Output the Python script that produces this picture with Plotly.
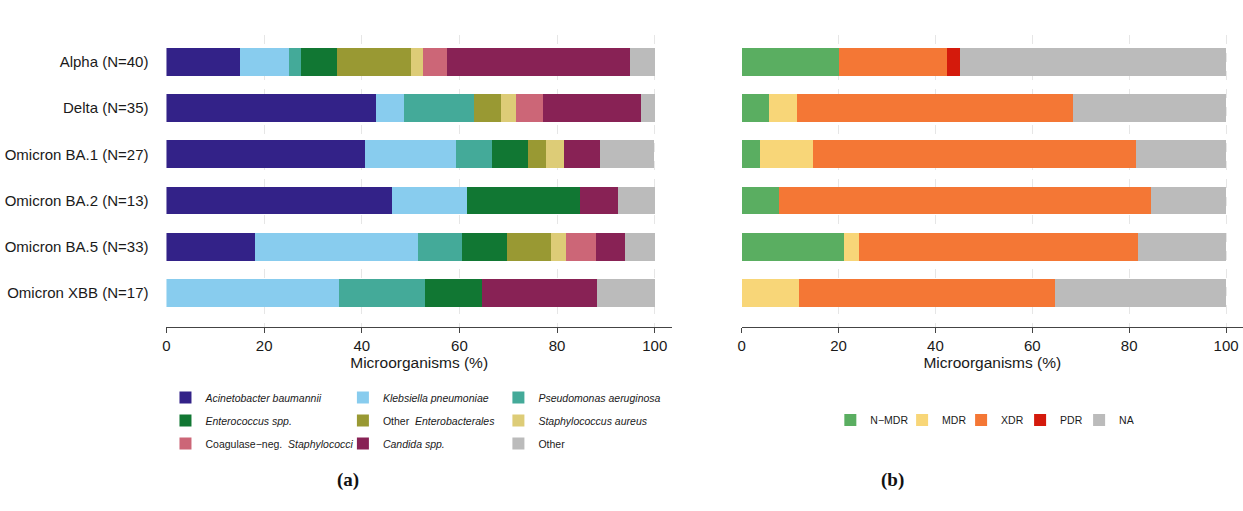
import plotly.graph_objects as go

# Variant groups (top to bottom)
variants = [
    "Alpha (N=40)",
    "Delta (N=35)",
    "Omicron BA.1 (N=27)",
    "Omicron BA.2 (N=13)",
    "Omicron BA.5 (N=33)",
    "Omicron XBB (N=17)",
]

# Panel (a): share of microorganisms per variant (%)
acinetobacter = [15.0, 42.9, 40.7, 46.2, 18.2, 0.0]
klebsiella = [10.0, 5.7, 18.5, 15.4, 33.3, 35.3]
pseudomonas = [2.5, 14.3, 7.4, 0.0, 9.1, 17.6]
enterococcus = [7.5, 0.0, 7.4, 23.1, 9.1, 11.8]
other_enterobacterales = [15.0, 5.7, 3.7, 0.0, 9.1, 0.0]
staph_aureus = [2.5, 2.9, 3.7, 0.0, 3.0, 0.0]
coagulase_neg = [5.0, 5.7, 0.0, 0.0, 6.1, 0.0]
candida = [37.5, 20.0, 7.4, 7.7, 6.1, 23.5]
other_organisms = [5.0, 2.9, 11.1, 7.7, 6.1, 11.8]

# Panel (b): resistance profile per variant (%)
n_mdr = [20.0, 5.7, 3.7, 7.7, 21.2, 0.0]
mdr = [0.0, 5.7, 11.1, 0.0, 3.0, 11.8]
xdr = [22.5, 57.1, 66.7, 76.9, 57.6, 52.9]
pdr = [2.5, 0.0, 0.0, 0.0, 0.0, 0.0]
na_status = [55.0, 31.4, 18.5, 15.4, 18.2, 35.3]

x_ticks = [0, 20, 40, 60, 80, 100]

organism_series = [
    ("<i>Acinetobacter baumannii</i>", acinetobacter, "#332288", "legend"),
    ("<i>Klebsiella pneumoniae</i>", klebsiella, "#88CCEE", "legend2"),
    ("<i>Pseudomonas aeruginosa</i>", pseudomonas, "#44AA99", "legend3"),
    ("<i>Enterococcus spp.</i>", enterococcus, "#117733", "legend"),
    ("Other  <i>Enterobacterales</i>", other_enterobacterales, "#999933", "legend2"),
    ("<i>Staphylococcus aureus</i>", staph_aureus, "#DDCC77", "legend3"),
    ("Coagulase\u2212neg.  <i>Staphylococci</i>", coagulase_neg, "#CC6677", "legend"),
    ("<i>Candida spp.</i>", candida, "#882255", "legend2"),
    ("Other", other_organisms, "#BBBBBB", "legend3"),
]

resistance_series = [
    ("N\u2212MDR", n_mdr, "#5AAE61", "legend4"),
    ("MDR", mdr, "#F8D678", "legend5"),
    ("XDR", xdr, "#F47735", "legend5"),
    ("PDR", pdr, "#D41A0C", "legend5"),
    ("NA", na_status, "#BBBBBB", "legend5"),
]

fig = go.Figure()

for i, (name, vals, color, leg) in enumerate(organism_series):
    fig.add_trace(go.Bar(
        y=variants, x=vals, orientation="h", name=name,
        marker=dict(color=color, line=dict(width=0)),
        xaxis="x", yaxis="y", legend=leg, legendgroup=f"org{i}",
    ))

for name, vals, color, leg in resistance_series:
    fig.add_trace(go.Bar(
        y=variants, x=vals, orientation="h", name=name,
        marker=dict(color=color, line=dict(width=0)),
        xaxis="x2", yaxis="y2", legend=leg,
    ))

W, H = 1243, 511
font_family = "Liberation Sans, Arial, sans-serif"

def px_x(p):
    return p / W

def px_y(p):
    return 1 - p / H

y_dom = [px_y(327), px_y(35)]
y_range = [5.73, -0.576]

xaxis_common = dict(
    range=[0, 103.5], tickvals=x_ticks, ticks="outside", ticklen=5,
    tickcolor="#444444", showline=True, linecolor="#444444", linewidth=1,
    showgrid=True, gridcolor="#E6E6E6", gridwidth=1.2, griddash="dash",
    zeroline=False, tickfont=dict(size=15, color="#1A1A1A"),
    title=dict(text="Microorganisms (%)", font=dict(size=15.5, color="#1A1A1A"), standoff=3),
    fixedrange=True,
)

legend_font = dict(size=10.5, color="#1A1A1A", family=font_family)

legend_common = dict(
    orientation="v", bgcolor="rgba(0,0,0,0)", font=legend_font,
    xanchor="left", yanchor="top", tracegroupgap=4, traceorder="grouped",
    itemclick=False, itemdoubleclick=False,
)

row_legend = dict(
    orientation="h", xanchor="left", yanchor="middle", traceorder="normal",
    bgcolor="rgba(0,0,0,0)", font=legend_font, itemclick=False, itemdoubleclick=False,
)

fig.update_layout(
    width=W, height=H,
    margin=dict(l=0, r=0, t=0, b=0),
    paper_bgcolor="white", plot_bgcolor="white",
    font=dict(family=font_family, color="#1A1A1A"),
    barmode="stack", bargap=0.4,
    xaxis=dict(domain=[px_x(163), px_x(670)], anchor="y", **xaxis_common),
    xaxis2=dict(domain=[px_x(740), 1.0], anchor="y2", **xaxis_common),
    yaxis=dict(domain=y_dom, anchor="x", type="category", categoryarray=variants,
               range=y_range, showgrid=False, zeroline=False, showline=False,
               ticks="", ticklabelstandoff=17, tickfont=dict(size=15, color="#1A1A1A"),
               fixedrange=True),
    yaxis2=dict(domain=y_dom, anchor="x2", type="category", categoryarray=variants,
                range=y_range, showgrid=False, zeroline=False, showline=False,
                showticklabels=False, ticks="", fixedrange=True),
    legend=dict(x=px_x(162), y=px_y(383), **legend_common),
    legend2=dict(x=px_x(340), y=px_y(383), **legend_common),
    legend3=dict(x=px_x(496), y=px_y(383), **legend_common),
    legend4=dict(x=px_x(829), y=px_y(420), **row_legend),
    legend5=dict(x=px_x(901), y=px_y(420), entrywidth=14, **row_legend),
    showlegend=True,
    annotations=[
        dict(text="<b>(a)</b>", x=px_x(332), y=px_y(493), xref="paper", yref="paper",
             showarrow=False, font=dict(size=19, family="Liberation Serif, serif", color="#111111")),
        dict(text="<b>(b)</b>", x=px_x(905), y=px_y(493), xref="paper", yref="paper",
             showarrow=False, font=dict(size=19, family="Liberation Serif, serif", color="#111111")),
    ],
)

fig.write_html("out.html")
